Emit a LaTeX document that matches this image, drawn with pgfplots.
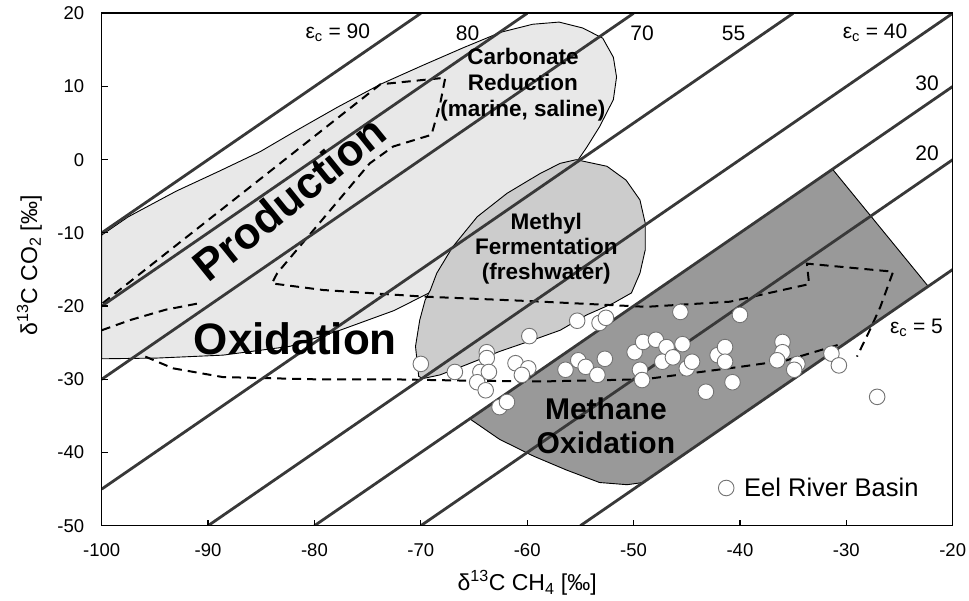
\documentclass[border=0pt]{standalone}
\usepackage{fontspec}
\setmainfont{Liberation Sans}
\usepackage{pgfplots}
\pgfplotsset{compat=1.18}

\definecolor{lightfill}{gray}{0.91}
\definecolor{methylfill}{gray}{0.80}
\definecolor{oxfill}{gray}{0.60}
\definecolor{isoline}{gray}{0.22}

% single circle followed by a gap before the legend text
\pgfplotsset{circle legend/.style={legend image code/.code={%
    \path[draw=none, fill=none] (0pt,-1pt) rectangle (24pt,1pt);
    \draw[mark repeat=2,mark phase=2,##1] plot coordinates {(0pt,0pt)(8pt,0pt)(16pt,0pt)};}}}

\begin{document}
\begin{tikzpicture}
\useasboundingbox (-101.7pt,-75.3pt) rectangle (867.3pt,525.7pt);
\begin{axis}[
  scale only axis, width=851pt, height=512.4pt,
  xmin=-100, xmax=-20, ymin=-50, ymax=20,
  xtick={-100,-90,...,-20}, xticklabels={-100,-90,-80,-70,-60,-50,-40,-30,-20},
  ytick={-50,-40,...,20}, yticklabels={-50,-40,-30,-20,-10,0,10,20},
  xtick pos=left, ytick pos=left, tick align=inside, major tick length=6pt,
  tick style={black, line width=1.2pt},
  axis line style={black, line width=1.6pt},
  ticklabel style={font=\fontsize{18.5}{20}\selectfont},
  xticklabel style={yshift=-14pt},
  yticklabel style={xshift=-14pt},
  xlabel={δ\textsuperscript{13}C CH\textsubscript{4} [‰]},
  ylabel={δ\textsuperscript{13}C CO\textsubscript{2} [‰]},
  label style={font=\fontsize{23}{25}\selectfont},
  xlabel style={at={(axis description cs:0.5,-0.112)}, anchor=center},
  ylabel style={at={(axis description cs:-0.085,0.508)}, anchor=center},
  axis on top,
  legend style={draw=none, fill=none, at={(axis cs:-42.06,-44.85)}, anchor=west,
    font=\fontsize{25.5}{28}\selectfont, inner sep=0pt},
  isotope/.style={isoline, line width=2.8pt, forget plot},
  envelope/.style={black, line width=2pt, dash pattern=on 9pt off 6pt, forget plot},
]

% carbonate reduction field (production / oxidation envelope)
\addplot[fill=lightfill, draw=black, line width=0.9pt, forget plot] coordinates {
  (-100,-10.3) (-97.5,-7.8) (-93,-4.3) (-89,-1.6) (-85.1,1.1) (-81.8,3.9)
  (-77.8,7.2) (-73.8,10.3) (-69.8,12.9) (-66,15.3) (-62.5,17.4) (-59.5,18.5)
  (-57,18.8) (-54.8,18.0) (-52.9,16.6) (-51.9,14.0) (-51.6,11.3) (-51.9,8.2)
  (-53.2,4.5) (-54.4,1.7) (-55.2,0.0) (-57.5,-1.5) (-64.7,-9) (-68.5,-16)
  (-69.1,-18.1) (-72.5,-20.6) (-77.6,-23.3) (-82.3,-25.5) (-88.6,-26.7)
  (-94.8,-27.1) (-100,-27.2)} -- cycle;

% methyl fermentation field
\addplot[fill=methylfill, draw=black, line width=0.9pt, forget plot] coordinates {
  (-55.4,0.0) (-52.5,-0.9) (-50.7,-2.8) (-49.4,-5.5) (-48.9,-8.7) (-48.9,-12.3)
  (-49.4,-15.5) (-50.2,-18.2) (-51.9,-19.6) (-54.4,-21.2) (-56.9,-23.3)
  (-59.4,-24.6) (-62.6,-26.2) (-65.7,-28.0) (-68.2,-29.4) (-69.8,-29.9)
  (-70.2,-29.6) (-70.5,-25.5) (-70.1,-21.9) (-69.6,-19.2) (-69.1,-17.8)
  (-68.5,-15.5) (-67.0,-11.9) (-64.7,-7.8) (-61.9,-4.6) (-58.8,-1.9) (-56.9,-0.5)} -- cycle;

% methane oxidation field
\addplot[fill=oxfill, draw=black, line width=0.9pt, forget plot] coordinates {
  (-65.4,-35.4) (-31.3,-1.3) (-22.3,-17.3) (-49.1,-44.1) (-50.6,-44.4)
  (-53.2,-44.1) (-56.3,-42.4) (-59.4,-40.5) (-62.6,-38.2)} -- cycle;

% dashed envelopes
\addplot[envelope] coordinates {
  (-99.9,-19.6) (-73.8,10.3) (-67.7,11.2) (-68.2,7.5) (-69.0,3.4) (-72.6,1.8)
  (-74.8,-0.5) (-83.5,-15.5) (-84.0,-16.9) (-79.2,-17.8) (-69.8,-18.7)
  (-60,-19.3) (-48.8,-20.1) (-40.95,-19.4) (-33.5,-17.0) (-33.7,-14.2)
  (-25.6,-15.3) (-26.8,-20.1) (-27.8,-23.3) (-29.0,-26.9)};
\addplot[envelope] coordinates {
  (-95.9,-26.9) (-93.3,-28.5) (-88.6,-29.7) (-80,-30.0) (-72.9,-30.0)
  (-65,-30.2) (-58.8,-30.3) (-49,-30.0) (-40.0,-28.3) (-35.6,-27.4) (-30.3,-25.1)};
\addplot[envelope] coordinates {
  (-100,-23.3) (-97.3,-21.9) (-94,-20.5) (-90.8,-19.6)};

% isotope fractionation lines, epsilon_c
\addplot[isotope] coordinates {(-100,-10) (-70,20)};
\addplot[isotope] coordinates {(-100,-20) (-60,20)};
\addplot[isotope] coordinates {(-100,-30) (-50,20)};
\addplot[isotope] coordinates {(-100,-45) (-35,20)};
\addplot[isotope] coordinates {(-90,-50) (-20,20)};
\addplot[isotope] coordinates {(-80,-50) (-20,10)};
\addplot[isotope] coordinates {(-70,-50) (-20,0)};
\addplot[isotope] coordinates {(-55,-50) (-20,-15)};

% Eel River Basin samples
\addplot[only marks, mark=*, mark size=7.8pt,
  mark options={fill=white, draw=black!55, line width=0.9pt}, circle legend] coordinates {
  (-70.0,-27.9) (-66.8,-29.0) (-63.8,-26.3) (-63.8,-27.1) (-64.4,-29.0)
  (-63.6,-29.0) (-64.7,-30.4) (-63.9,-31.5) (-61.1,-27.8) (-59.9,-28.5)
  (-60.5,-29.4) (-59.8,-24.1) (-55.3,-22.0) (-53.2,-22.3) (-52.6,-21.6)
  (-56.4,-28.7) (-55.2,-27.4) (-54.5,-28.3) (-53.4,-29.4) (-52.7,-27.2)
  (-49.9,-26.3) (-49.1,-24.9) (-49.4,-28.7) (-49.2,-30.1) (-47.9,-24.6)
  (-46.9,-25.6) (-47.3,-27.6) (-46.3,-27.0) (-45.4,-25.2) (-45.0,-28.5)
  (-44.5,-27.6) (-43.2,-31.7) (-42.1,-26.7) (-41.4,-25.6) (-41.4,-27.6)
  (-40.7,-30.4) (-36.0,-24.9) (-36.0,-26.3) (-36.5,-27.4) (-34.6,-27.9)
  (-34.9,-28.7) (-31.4,-26.5) (-30.7,-28.1) (-27.1,-32.4) (-45.6,-20.8)
  (-40.0,-21.2) (-62.6,-33.8) (-61.9,-33.1)};
\addlegendentry{Eel River Basin}

% field names
\node[font=\bfseries\fontsize{44}{48}\selectfont, rotate=39] at (axis cs:-82.4,-5.3) {Production};
\node[font=\bfseries\fontsize{44}{48}\selectfont] at (axis cs:-81.8,-24.4) {Oxidation};
\node[font=\bfseries\fontsize{22.5}{26}\selectfont, align=center] at (axis cs:-60.4,10.2) {Carbonate\\Reduction\\(marine, saline)};
\node[font=\bfseries\fontsize{22.5}{25}\selectfont, align=center] at (axis cs:-58.2,-12.1) {Methyl\\Fermentation\\(freshwater)};
\node[font=\bfseries\fontsize{30}{34}\selectfont, align=center] at (axis cs:-52.6,-36.4) {Methane\\Oxidation};

% epsilon_c labels
\node[font=\fontsize{21}{24}\selectfont] at (axis cs:-77.8,17.3) {ε\textsubscript{c} = 90};
\node[font=\fontsize{21}{24}\selectfont] at (axis cs:-65.6,17.3) {80};
\node[font=\fontsize{21}{24}\selectfont] at (axis cs:-49.2,17.3) {70};
\node[font=\fontsize{21}{24}\selectfont] at (axis cs:-40.6,17.3) {55};
\node[font=\fontsize{21}{24}\selectfont] at (axis cs:-27.3,17.3) {ε\textsubscript{c} = 40};
\node[font=\fontsize{21}{24}\selectfont] at (axis cs:-22.4,10.5) {30};
\node[font=\fontsize{21}{24}\selectfont] at (axis cs:-22.4,0.9) {20};
\node[font=\fontsize{21}{24}\selectfont] at (axis cs:-23.4,-23.0) {ε\textsubscript{c} = 5};
\end{axis}
\end{tikzpicture}
\end{document}
